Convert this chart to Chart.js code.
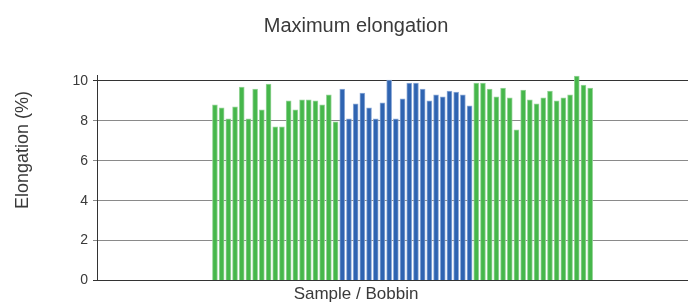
<!DOCTYPE html>
<html>
<head>
<meta charset="utf-8">
<script src="https://cdn.jsdelivr.net/npm/chart.js@4.4.0/dist/chart.umd.min.js"></script>
<style>
  html, body { margin: 0; padding: 0; background: #ffffff; }
  #wrap { width: 695px; height: 302px; }
</style>
</head>
<body>
<div id="wrap"><canvas id="elongationChart" width="695" height="302"></canvas></div>
<script>
// Elongation per bobbin (%)
const firstGreen = [8.8, 8.65, 8.1, 8.7, 9.7, 8.1, 9.6, 8.55, 9.85, 7.7, 7.7, 9.0, 8.55, 9.05, 9.05, 9.0, 8.8, 9.3, 7.95];
const blueGroup = [9.6, 8.1, 8.85, 9.4, 8.65, 8.1, 8.9, 10.05, 8.1, 9.1, 9.9, 9.9, 9.6, 9.0, 9.3, 9.2, 9.5, 9.45, 9.3, 8.75];
const secondGreen = [9.9, 9.9, 9.6, 9.2, 9.65, 9.15, 7.55, 9.55, 9.05, 8.85, 9.15, 9.5, 9.0, 9.15, 9.3, 10.25, 9.8, 9.65];
const yTicks = [0, 2, 4, 6, 8, 10];

const titleText = 'Maximum elongation';
const xTitle = 'Sample / Bobbin';
const yTitle = 'Elongation (%)';

// bobbins are numbered one after another across the three groups
function toPoints(values, start) {
    return values.map((v, i) => ({ x: start + i, y: v }));
}
const greenPoints = toPoints(firstGreen, 0)
    .concat(toPoints(secondGreen, firstGreen.length + blueGroup.length));
const bluePoints = toPoints(blueGroup, firstGreen.length);

const FONT = '"Liberation Sans", Arial, sans-serif';
const TEXT = '#3a3a3a';

// titles drawn by hand so they can sit where the original has them
const textPlugin = {
    id: 'chartTexts',
    afterDraw(chart) {
        const c = chart.ctx;
        c.save();
        c.fillStyle = TEXT;
        c.textAlign = 'center';
        c.textBaseline = 'alphabetic';
        c.font = '20px ' + FONT;
        c.fillText(titleText, 356, 32);
        c.font = '17px ' + FONT;
        c.fillText(xTitle, 356, 299);
        c.translate(28, 150);
        c.rotate(-Math.PI / 2);
        c.font = '18px ' + FONT;
        c.fillText(yTitle, 0, 0);
        c.restore();
    }
};

new Chart(document.getElementById('elongationChart'), {
    type: 'bar',
    data: {
        datasets: [
            {
                label: 'Green bobbins',
                data: greenPoints,
                backgroundColor: '#46b74b',
                borderColor: 'rgba(140, 208, 142, 0.9)',
                borderWidth: 1,
                borderSkipped: 'bottom',
                barThickness: 5,
                grouped: false
            },
            {
                label: 'Blue bobbins',
                data: bluePoints,
                backgroundColor: '#2f64b1',
                borderColor: 'rgba(130, 162, 212, 0.9)',
                borderWidth: 1,
                borderSkipped: 'bottom',
                barThickness: 5,
                grouped: false
            }
        ]
    },
    options: {
        responsive: false,
        animation: false,
        layout: {
            padding: { top: 75, bottom: 21.5, left: 0, right: 7 }
        },
        scales: {
            x: {
                type: 'linear',
                display: false,
                offset: false,
                min: -17.6,
                max: 70.6
            },
            y: {
                min: 0,
                max: 10.3,
                afterBuildTicks: (scale) => {
                    scale.ticks = yTicks.map(v => ({ value: v }));
                },
                afterFit: (scale) => {
                    scale.width = 97;
                },
                ticks: {
                    color: TEXT,
                    padding: 5,
                    font: { family: FONT, size: 14 }
                },
                grid: {
                    color: (ctx) => (ctx.tick && (ctx.tick.value === 0 || ctx.tick.value === 10)) ? '#333333' : '#8a8a8a',
                    lineWidth: 1,
                    tickLength: 4
                },
                border: { display: true, color: '#333333', width: 1 }
            }
        },
        plugins: {
            legend: { display: false },
            tooltip: { enabled: false },
            title: { display: false }
        }
    },
    plugins: [textPlugin]
});
</script>
</body>
</html>
